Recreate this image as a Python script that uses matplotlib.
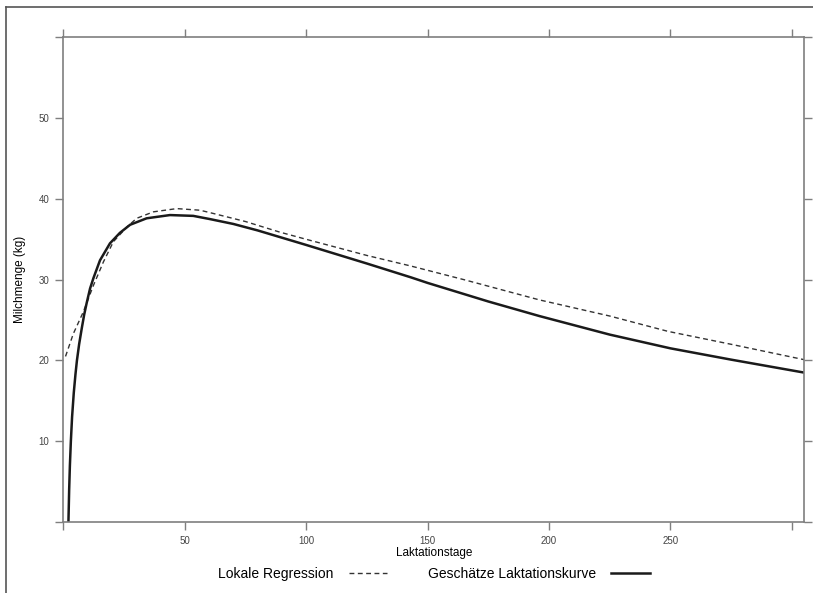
import matplotlib
matplotlib.use("Agg")
import matplotlib.pyplot as plt
from matplotlib.lines import Line2D

plt.rcParams['font.family'] = ['Liberation Sans', 'DejaVu Sans']

# values
tage_loess = [0.9, 4.1, 8.2, 12.4, 16.5, 20.6, 26.1, 30.2, 37.1, 46.7, 56.3, 60.4,
              75, 89, 100, 125, 143, 165, 196, 225, 249, 275, 305]
milch_loess = [20.5, 23.3, 26.0, 29.3, 32.2, 34.7, 36.5, 37.6, 38.4, 38.8, 38.6, 38.3,
               37.2, 35.9, 35.0, 33.0, 31.7, 30.0, 27.5, 25.5, 23.6, 22.0, 20.1]

tage_kurve = [2.1, 2.4, 2.7, 3.1, 3.6, 4.3, 5.0, 5.6, 6.5, 7.6, 8.6, 9.6, 11, 12.4,
              15.1, 19.2, 23.3, 27.5, 34.3, 43.9, 53.5, 60.4, 70, 80, 90, 100, 125,
              143, 150, 175, 196, 225, 250, 275, 305]
milch_kurve = [0, 4, 7, 10, 13, 16, 18.3, 20, 22.0, 24.0, 25.7, 27.1, 28.9, 30.2,
               32.4, 34.5, 35.8, 36.8, 37.6, 38.0, 37.9, 37.5, 36.9, 36.1, 35.2, 34.3,
               32.0, 30.3, 29.6, 27.3, 25.5, 23.2, 21.5, 20.1, 18.5]

x_ticks = [0, 50, 100, 150, 200, 250, 300]
y_ticks = [0, 10, 20, 30, 40, 50, 60]

fig = plt.figure(figsize=(8.13, 5.93), dpi=100)
ax = fig.add_axes([0.0779, 0.1197, 0.989 - 0.0779, 0.937 - 0.1197])

grey = '#7f7f7f'
ax.plot(tage_loess, milch_loess, color='#333333', lw=1.0, ls=(0, (3.5, 2.5)))
ax.plot(tage_kurve, milch_kurve, color='#1a1a1a', lw=1.8, solid_joinstyle='round')

ax.set_xlim(0, 305)
ax.set_ylim(0, 60)
ax.set_xticks(x_ticks)
ax.set_yticks(y_ticks)
ax.set_xticklabels(['' if v in (0, 300) else str(v) for v in x_ticks])
ax.set_yticklabels(['' if v in (0, 60) else str(v) for v in y_ticks])
ax.tick_params(direction='out', length=6, width=1, color=grey, labelcolor='#444444',
               labelsize=7, top=True, right=True, pad=4)
for s in ax.spines.values():
    s.set_color(grey)
    s.set_linewidth(1.2)

ax.set_xlabel('Laktationstage', fontsize=8.5, labelpad=1)
ax.set_ylabel('Milchmenge (kg)', fontsize=8.5, labelpad=9)

handles = [Line2D([], [], color='#333333', lw=1.0, ls=(0, (3.5, 2.5))),
           Line2D([], [], color='#1a1a1a', lw=1.8)]
fig.legend(handles, ['Lokale Regression', 'Geschätze Laktationskurve'],
           loc='center', bbox_to_anchor=(434 / 813, 1 - 574 / 593), ncol=2,
           markerfirst=False, frameon=False, fontsize=10, handlelength=2.8,
           columnspacing=2.9, handletextpad=1.1)

# border of the screenshot
fig.add_artist(Line2D([6 / 813, 6 / 813], [0, 1 - 7 / 593], transform=fig.transFigure,
                      color='#555555', lw=1.2))
fig.add_artist(Line2D([6 / 813, 1], [1 - 7 / 593, 1 - 7 / 593], transform=fig.transFigure,
                      color='#555555', lw=1.2))

fig.savefig('out.png', dpi=100)
